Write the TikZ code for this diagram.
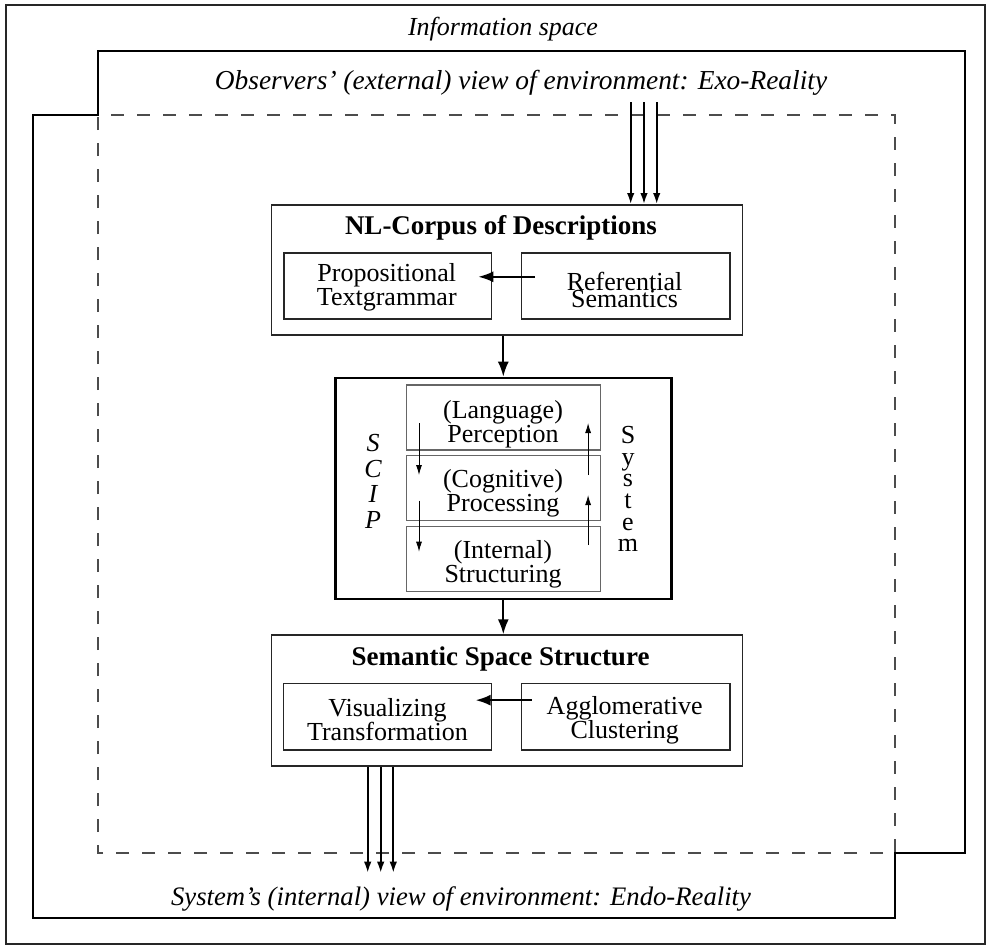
\documentclass[tikz,border=0pt]{standalone}
\usepackage{fontspec}
\setmainfont{Liberation Serif}
\usetikzlibrary{arrows.meta,calc}
\newcommand\tightleading{\fontsize{26}{17}\selectfont\lineskiplimit=-50pt\relax}
\begin{document}
\begin{tikzpicture}[x=1pt,y=-1pt,
  txt/.style={font=\fontsize{26}{24}\selectfont, inner sep=0pt, align=center},
  itxt/.style={font=\fontsize{26}{24}\selectfont\itshape, inner sep=0pt},
  btxt/.style={font=\fontsize{27}{24}\selectfont\bfseries, inner sep=0pt},
  frame/.style={draw=black!85, line width=1.8pt},
  region/.style={draw=black, line width=2.6pt, line join=miter},
  envelope/.style={draw=black!70, line width=1.4pt, dash pattern=on 13pt off 13pt, dash phase=13pt},
  bigbox/.style={draw=black!85, line width=1.6pt, inner sep=0pt, anchor=north west},
  scipbox/.style={draw=black, line width=2.6pt, inner sep=0pt, anchor=north west},
  subbox/.style={draw=black!85, line width=1.6pt, inner sep=0pt, anchor=north west},
  layer/.style={draw=black!60, line width=1.4pt, inner sep=0pt, anchor=north west, minimum width=194pt, minimum height=65pt},
  conn/.style={line width=2pt, -{Latex[length=15pt,width=11pt]}},
  feed/.style={line width=1.8pt, -{Latex[length=11pt,width=7.5pt]}},
  flow/.style={line width=0.9pt, -{Latex[length=10pt,width=6pt]}}
]
\useasboundingbox (0,0) rectangle (987,946);

% outer frame
\draw[frame] (6,5) rectangle (985,944);
% observers' region (thick stepped outline)
\draw[region] (98,51) -- (965,51) -- (965,853) -- (895,853) -- (895,918) -- (33,918) -- (33,115) -- (98,115) -- cycle;
% dashed system envelope
\draw[envelope] (98,115) -- (895,115) -- (895,853) -- (98,853) -- cycle;

% labels of spaces
\node[itxt, anchor=base] (info) at (503,35) {Information space};
\node[itxt, font=\fontsize{27.4}{24}\selectfont\itshape, anchor=base] (exolbl) at (521,89) {Observers' (external) view of environment: Exo-Reality};
\node[itxt, font=\fontsize{26.7}{24}\selectfont\itshape, anchor=base] (endolbl) at (461,905) {System's (internal) view of environment: Endo-Reality};

% NL corpus box
\node[bigbox, minimum width=471pt, minimum height=130pt] (nl) at (270.7,204) {};
\node[btxt, anchor=base] (nltitle) at (501,234) {NL-Corpus of Descriptions};
\node[subbox, minimum width=207.7pt, minimum height=66pt] (prop) at (283,252) {};
\node[subbox, minimum width=208.6pt, minimum height=66pt] (refs) at (520.7,252) {};
\node[txt] (proptxt) at (386.8,287.5) {Propositional\\Textgrammar};
\node[txt, font=\tightleading] (refstxt) at (624.5,289.5) {Referential\\Semantics};

% SCIP system box
\node[scipbox, minimum width=336pt, minimum height=221pt] (scip) at (334,376.7) {};
\node[layer] (lang) at (405.7,384.3) {};
\node[layer] (cog) at (405.7,455) {};
\node[layer] (intl) at (405.7,525.7) {};
\node[txt] (langtxt) at (503,424.5) {(Language)\\Perception};
\node[txt] (cogtxt) at (503,493.5) {(Cognitive)\\Processing};
\node[txt] (intltxt) at (503,564) {(Internal)\\Structuring};
\node[txt, font=\fontsize{26}{25.7}\selectfont\itshape] (sciptxt) at (373,481.5) {S\\C\\I\\P};
\node[txt, font=\fontsize{26}{21.6}\selectfont] (systxt) at (628,489) {S\\y\\s\\t\\e\\m};

% Semantic space box
\node[bigbox, minimum width=471pt, minimum height=130.7pt] (sem) at (270.7,634.3) {};
\node[btxt, anchor=base] (semtitle) at (500.5,665.5) {Semantic Space Structure};
\node[subbox, minimum width=208pt, minimum height=66.3pt] (vis) at (282.7,682.7) {};
\node[subbox, minimum width=208.6pt, minimum height=66.3pt] (agg) at (520.7,682.7) {};
\node[txt] (vistxt) at (387.5,720) {Visualizing\\Transformation};
\node[txt] (aggtxt) at (624.7,720) {Agglomerative\\Clustering};

% connectors
\coordinate (exo) at (644,102);
\foreach \dx in {-13.3,0,12.7}
  \draw[feed] ($(exo)+(\dx,0)$) -- ($(exo |- nl.north)+(\dx,0)$);
\draw[conn] ($(refs.west)+(14.3,-9)$) -- ($(prop.east)+(-14,-9)$);
\draw[conn] (scip.north |- nl.south) -- (scip.north);
\draw[flow] ($(lang.north west)+(13.3,39)$) -- ($(cog.north west)+(13.3,20)$);
\draw[flow] ($(cog.north west)+(13.3,45.7)$) -- ($(intl.north west)+(13.3,26)$);
\draw[flow] ($(cog.north east)+(-13,20)$) -- ($(lang.north east)+(-13,38.7)$);
\draw[flow] ($(intl.north east)+(-13,19.3)$) -- ($(cog.north east)+(-13,40)$);
\draw[conn] (scip.south) -- (scip.south |- sem.north);
\draw[conn] ($(agg.west)+(11,-16.5)$) -- ($(vis.east)+(-16.7,-16.5)$);
\coordinate (endo) at (380.7,872.7);
\foreach \dx in {-13,0,12.6}
  \draw[feed] ($(endo |- sem.south)+(\dx,0)$) -- ($(endo)+(\dx,0)$);
\end{tikzpicture}
\end{document}
